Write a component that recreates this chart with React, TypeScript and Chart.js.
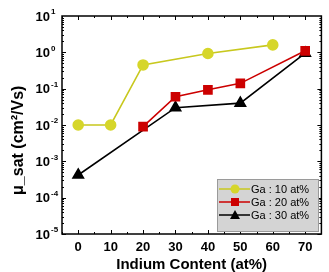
import React, { useEffect, useRef } from "react";
import { Chart, registerables } from "chart.js";

Chart.register(...registerables);

const indiumContent = [0, 10, 20, 30, 40, 50, 60, 70];
const ga10X = [0, 10, 20, 40, 60];
const ga10Y = [0.01, 0.01, 0.45, 0.93, 1.6];
const ga20X = [20, 30, 40, 50, 70];
const ga20Y = [0.009, 0.06, 0.093, 0.14, 1.1];
const ga30X = [0, 30, 50, 70];
const ga30Y = [0.00042, 0.03, 0.04, 0.95];
const yDecades = [-5, -4, -3, -2, -1, 0, 1];
const seriesLabels = ["Ga : 10 at%", "Ga : 20 at%", "Ga : 30 at%"];
const xTitle = "Indium Content (at%)";
const yTitle = "μ_sat (cm²/Vs)";

const FONT = "'Liberation Sans', Arial, sans-serif";

const customPlugin = {
  id: "custom",
  afterDraw(chart: any) {
    const ctx = chart.ctx;
    const { left, right, top, bottom } = chart.chartArea;
    const xs = chart.scales.x;
    const ys = chart.scales.y;
    ctx.save();
    // frame
    ctx.strokeStyle = "#000";
    ctx.lineWidth = 1.5;
    ctx.strokeRect(left, top, right - left, bottom - top);
    ctx.lineWidth = 1;
    // x ticks (major + minor)
    for (let v = -5; v <= 75; v += 5) {
      const px = Math.round(xs.getPixelForValue(v)) + 0.5;
      const major = v % 10 === 0;
      const len = major ? 4 : 2;
      ctx.beginPath();
      ctx.moveTo(px, bottom);
      ctx.lineTo(px, bottom - len);
      ctx.moveTo(px, top);
      ctx.lineTo(px, top + len);
      ctx.stroke();
    }
    // y ticks
    for (let d = -5; d <= 0; d++) {
      for (let m = 1; m <= 9; m++) {
        const val = m * Math.pow(10, d);
        const py = Math.round(ys.getPixelForValue(val)) + 0.5;
        const len = m === 1 ? 4 : 2;
        ctx.beginPath();
        ctx.moveTo(left, py);
        ctx.lineTo(left + len, py);
        ctx.moveTo(right, py);
        ctx.lineTo(right - len, py);
        ctx.stroke();
      }
    }
    // x tick labels
    ctx.fillStyle = "#000";
    ctx.font = `bold 13px ${FONT}`;
    ctx.textAlign = "center";
    ctx.textBaseline = "middle";
    indiumContent.forEach((v) => {
      ctx.fillText(String(v), xs.getPixelForValue(v), bottom + 13);
    });
    // y tick labels with superscripts
    yDecades.forEach((e) => {
      const py = ys.getPixelForValue(Math.pow(10, e));
      ctx.font = `bold 13px ${FONT}`;
      ctx.textAlign = "right";
      ctx.textBaseline = "middle";
      ctx.fillText("10", left - 12, py + 1);
      ctx.font = `bold 8px ${FONT}`;
      ctx.textAlign = "left";
      ctx.fillText(String(e).replace("-", "-"), left - 11, py - 4);
    });
    // axis titles
    ctx.font = `bold 15px ${FONT}`;
    ctx.textAlign = "center";
    ctx.textBaseline = "middle";
    ctx.fillText(xTitle, (left + right) / 2, bottom + 31);
    ctx.save();
    ctx.translate(19, top + (bottom - top) * 0.57);
    ctx.rotate(-Math.PI / 2);
    ctx.font = `bold 16px ${FONT}`;
    ctx.fillText(yTitle, 0, 0);
    ctx.restore();
    // legend
    const lx = 217, ly = 179, lw = 101, lh = 52;
    ctx.fillStyle = "#d4d4d4";
    ctx.fillRect(lx, ly, lw, lh);
    ctx.strokeStyle = "#9a9a9a";
    ctx.lineWidth = 1;
    ctx.strokeRect(lx + 0.5, ly + 0.5, lw, lh);
    const rows = [189, 202, 215];
    chart.data.datasets.forEach((ds: any, i: number) => {
      const y = rows[i];
      ctx.strokeStyle = ds.borderColor;
      ctx.lineWidth = 1.5;
      ctx.beginPath();
      ctx.moveTo(219, y);
      ctx.lineTo(250, y);
      ctx.stroke();
      ctx.fillStyle = ds.pointBackgroundColor;
      ctx.beginPath();
      if (ds.pointStyle === "circle") {
        ctx.arc(235, y, 4.5, 0, Math.PI * 2);
      } else if (ds.pointStyle === "rect") {
        ctx.rect(231, y - 4, 8, 8);
      } else {
        ctx.moveTo(235, y - 5);
        ctx.lineTo(240, y + 4);
        ctx.lineTo(230, y + 4);
        ctx.closePath();
      }
      ctx.fill();
      ctx.fillStyle = "#000";
      ctx.font = `11px ${FONT}`;
      ctx.textAlign = "left";
      ctx.textBaseline = "middle";
      ctx.fillText(ds.label, 251, y + 0.5);
    });
    ctx.restore();
  },
};

function toPoints(xs: number[], ys: number[]) {
  return xs.map((x, i) => ({ x, y: ys[i] }));
}

export default function App() {
  const ref = useRef<HTMLCanvasElement>(null);
  useEffect(() => {
    document.body.style.margin = "0";
    const chart = new Chart(ref.current!, {
      type: "line",
      data: {
        datasets: [
          {
            label: seriesLabels[0],
            data: toPoints(ga10X, ga10Y),
            borderColor: "#c8c81e",
            pointBackgroundColor: "#d6d62a",
            pointBorderColor: "#d6d62a",
            pointStyle: "circle",
            pointRadius: 5,
            borderWidth: 1.6,
          },
          {
            label: seriesLabels[1],
            data: toPoints(ga20X, ga20Y),
            borderColor: "#cc0000",
            pointBackgroundColor: "#cc0000",
            pointBorderColor: "#cc0000",
            pointStyle: "rect",
            pointRadius: 5.7,
            borderWidth: 1.6,
          },
          {
            label: seriesLabels[2],
            data: toPoints(ga30X, ga30Y),
            borderColor: "#000000",
            pointBackgroundColor: "#000000",
            pointBorderColor: "#000000",
            pointStyle: "triangle",
            pointRadius: 6,
            borderWidth: 1.6,
          },
        ],
      },
      options: {
        animation: false,
        responsive: false,
        devicePixelRatio: 1,
        layout: { padding: { left: 0, right: 6, top: 16, bottom: 0 } },
        plugins: { legend: { display: false }, tooltip: { enabled: false } },
        scales: {
          x: {
            type: "linear",
            min: -5,
            max: 75,
            grid: { display: false },
            border: { display: false },
            ticks: { display: false },
            afterFit: (s: any) => {
              s.height = 38;
            },
          },
          y: {
            type: "logarithmic",
            min: 1e-5,
            max: 10,
            grid: { display: false },
            border: { display: false },
            ticks: { display: false },
            afterFit: (s: any) => {
              s.width = 62;
            },
          },
        },
      },
      plugins: [customPlugin],
    });
    return () => chart.destroy();
  }, []);
  return <canvas ref={ref} width={329} height={272} style={{ display: "block" }} />;
}
